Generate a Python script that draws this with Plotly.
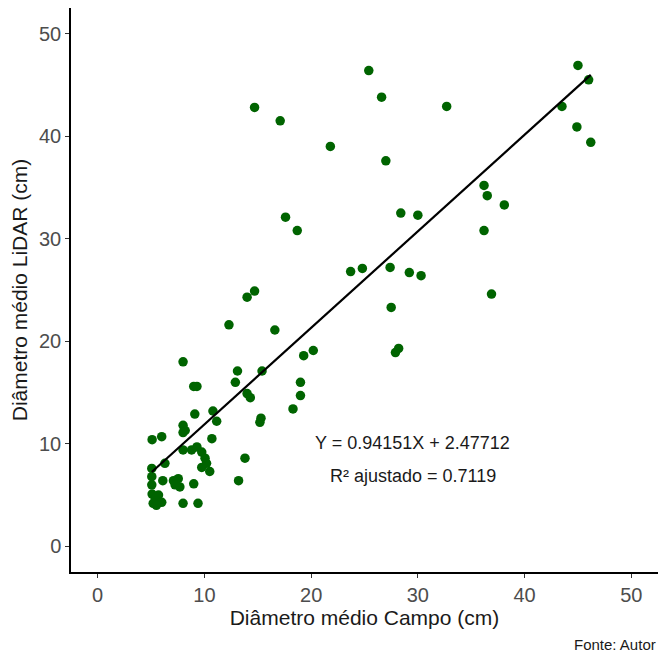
import plotly.graph_objects as go

# Field mean diameter (cm) vs LiDAR mean diameter (cm)
campo = [25.4, 26.6, 14.7, 17.1, 21.8, 27.0, 17.6, 18.7, 45.0, 46.0,
         43.5, 44.9, 46.2, 32.7, 36.2, 36.5, 38.1, 36.2, 28.4, 30.0,
         27.4, 29.2, 30.3, 36.9, 27.5, 23.7, 24.8, 14.0, 14.7, 12.3,
         16.6, 19.3, 20.2, 27.9, 28.2, 13.1, 15.4, 19.0, 19.0, 8.0,
         9.0, 9.3, 12.9, 14.0, 14.3, 18.3, 9.1, 10.8, 11.15, 15.3,
         15.2, 8.0, 8.2, 8.0, 5.1, 6.0, 10.7, 8.0, 8.8, 9.3,
         9.75, 10.06, 10.2, 9.75, 10.5, 6.3, 13.8, 13.2, 5.07, 5.07,
         5.07, 5.1, 5.4, 5.7, 6.0, 5.2, 6.1, 7.1, 7.55, 7.25,
         7.7, 9.0, 8.0, 9.4, 5.5]
lidar = [46.4, 43.8, 42.8, 41.5, 39.0, 37.6, 32.1, 30.8, 46.9, 45.5,
         42.9, 40.9, 39.4, 42.9, 35.2, 34.2, 33.3, 30.8, 32.5, 32.3,
         27.2, 26.7, 26.4, 24.6, 23.3, 26.8, 27.1, 24.3, 24.9, 21.6,
         21.1, 18.6, 19.1, 18.9, 19.3, 17.1, 17.1, 16.0, 14.7, 18.0,
         15.6, 15.6, 16.0, 14.9, 14.5, 13.4, 12.9, 13.2, 12.2, 12.5,
         12.1, 11.8, 11.3, 11.1, 10.4, 10.7, 10.5, 9.4, 9.4, 9.7,
         9.2, 8.6, 8.1, 7.7, 7.3, 8.1, 8.6, 6.4, 7.6, 6.8,
         6.0, 5.1, 4.65, 5.0, 4.3, 4.2, 6.4, 6.4, 6.6, 6.0,
         5.8, 6.1, 4.2, 4.2, 4.0]

# Regression coefficients (from the chart text)
slope = 0.94151
intercept = 2.47712
r2_adj = 0.7119

tick_vals = [0, 10, 20, 30, 40, 50]

x_line = [min(campo), max(campo)]
y_line = [slope * v + intercept for v in x_line]

font_main = "Liberation Sans, Arial, sans-serif"

fig = go.Figure()
fig.add_trace(go.Scatter(
    x=campo, y=lidar, mode="markers",
    marker=dict(color="#006400", size=9.5, line=dict(width=0)),
    showlegend=False, hoverinfo="skip"))
fig.add_trace(go.Scatter(
    x=x_line, y=y_line, mode="lines",
    line=dict(color="black", width=2.2),
    showlegend=False, hoverinfo="skip"))

fig.add_annotation(x=29.5, y=10.1, xref="x", yref="y",
                   text=f"Y = {slope}X + {intercept}", showarrow=False,
                   font=dict(family=font_main, size=18, color="#1a1a1a"))
fig.add_annotation(x=29.5, y=6.85, xref="x", yref="y",
                   text=f"R² ajustado = {r2_adj}", showarrow=False,
                   font=dict(family=font_main, size=18, color="#1a1a1a"))
fig.add_annotation(x=1.0, y=-0.129, xref="paper", yref="paper",
                   xanchor="right", yanchor="middle",
                   text="Fonte: Autor", showarrow=False,
                   font=dict(family=font_main, size=15, color="#1a1a1a"))

axis_common = dict(
    range=[-2.5, 52.5], tickvals=tick_vals, showgrid=False, zeroline=False,
    showline=True, linecolor="black", linewidth=1.5,
    ticks="outside", ticklen=4, tickcolor="#333333", tickwidth=1,
    tickfont=dict(family=font_main, size=20, color="#4d4d4d"),
    mirror=False,
)

fig.update_layout(
    width=660, height=656,
    margin=dict(l=71, r=2, t=8, b=84),
    paper_bgcolor="white", plot_bgcolor="white",
    xaxis=dict(**axis_common,
               title=dict(text="Diâmetro médio Campo (cm)",
                          font=dict(family=font_main, size=21, color="#1a1a1a"),
                          standoff=4)),
    yaxis=dict(**axis_common,
               title=dict(text="Diâmetro médio LiDAR (cm)",
                          font=dict(family=font_main, size=21, color="#1a1a1a"),
                          standoff=6)),
)

fig.write_html("out.html")
